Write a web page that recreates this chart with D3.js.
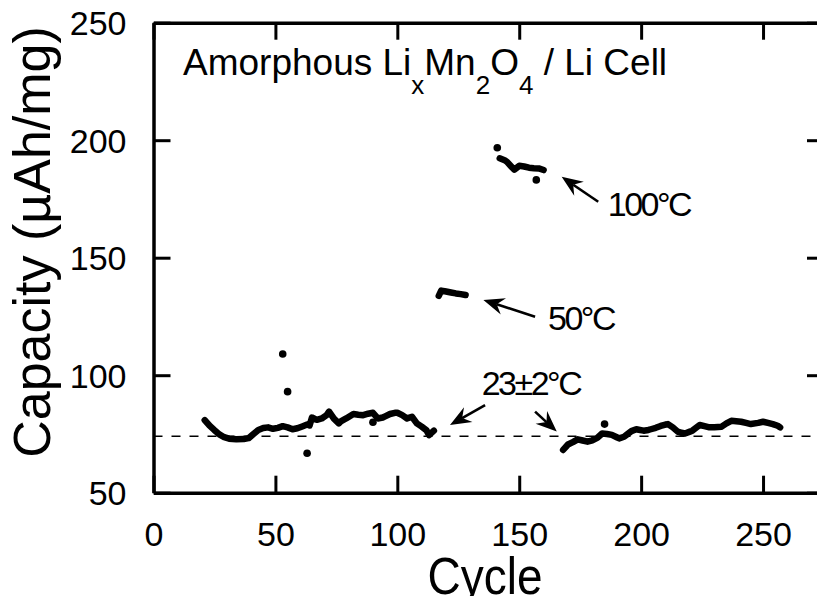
<!DOCTYPE html>
<html>
<head>
<meta charset="utf-8">
<script src="https://cdn.jsdelivr.net/npm/d3@7"></script>
<style>
  body { margin: 0; background: #fff; }
  svg { display: block; }
  text { font-family: "Liberation Sans", Arial, Helvetica, sans-serif; fill: #000; }
</style>
</head>
<body>
<svg id="chart" width="817" height="596"></svg>
<script>
// ---- data ----
// room temperature, first run (cycles 21-115)
var roomACycles = [21, 23, 25, 27, 29, 31, 34, 37, 39, 41, 43, 45, 47, 49, 51, 53, 55, 57, 59, 61, 63, 64,
                   65, 67, 69, 71, 72, 74, 76, 77, 79, 82, 84, 86, 88, 90, 92, 94, 95, 97, 99, 100, 102, 104, 106, 108, 110, 112, 113, 115];
var roomACapacity = [80.9, 78.5, 76.6, 74.8, 73.6, 73.0, 72.7, 72.8, 73.2, 75.0, 76.7, 77.5, 77.8, 77.2, 77.6, 78.3, 77.8, 77.0, 77.4, 78.2, 79.0, 78.6,
                     82.0, 81.0, 81.6, 83.0, 84.5, 81.5, 79.5, 80.5, 81.6, 83.5, 83.2, 83.0, 83.6, 84.0, 81.6, 82.0, 82.5, 83.5, 84.0, 84.0, 83.0, 81.6, 82.3, 79.5, 78.1, 76.5, 74.5, 76.4];

// 50 C
var warmCycles = [117, 118, 120, 122, 124, 126, 128];
var warmCapacity = [133.8, 136.0, 135.6, 135.2, 134.8, 134.5, 134.1];

// 100 C
var hotCycles = [142, 144, 145, 147, 148, 150, 152, 154, 156, 158, 160];
var hotCapacity = [192.3, 191.5, 190.8, 188.5, 187.5, 189.1, 188.8, 188.3, 188.1, 188.0, 187.3];

// room temperature, second run (cycles 168-257)
var roomBCycles = [168, 170, 172, 174, 176, 178, 180, 182, 184, 186, 188, 190, 191, 193, 194, 196, 198, 199, 201, 203, 204, 206, 208, 210, 211,
                   213, 215, 216, 218, 220, 221, 224, 226, 228, 230, 233, 235, 237, 239, 241, 243, 245, 248, 250, 252, 254, 256, 257];
var roomBCapacity = [68.2, 70.5, 71.5, 72.7, 72.2, 71.7, 72.3, 73.3, 75.2, 75.0, 74.6, 73.6, 73.1, 73.8, 74.6, 76.2, 77.0, 76.8, 76.4, 76.7, 77.0, 77.6, 78.4, 79.0, 79.2,
                     77.8, 76.0, 75.6, 75.2, 76.0, 76.4, 78.8, 78.3, 77.8, 77.9, 78.1, 79.5, 80.6, 80.4, 80.2, 79.7, 79.2, 79.7, 80.2, 79.7, 79.2, 78.5, 77.8];

// stray single points
var strayCycles = [53, 55, 63, 90, 141, 157, 185];
var strayCapacity = [109.0, 93.0, 66.8, 80.0, 196.8, 183.1, 79.2];

// reference level (dashed)
var baselineCapacity = 74;

// axis ticks
var xTicks = [0, 50, 100, 150, 200, 250];
var yTicks = [50, 100, 150, 200, 250];

// temperature notes: label position and arrow (tail -> tip), in cycle/capacity units
var noteLabels = ["100°C", "50°C", "23±2°C"];
var noteLabelAt = [[186.3, 167.7], [161.8, 119.2], [134.6, 91.6]];
var noteArrows = [
  [[182.4, 173.8], [167.4, 184.4]],
  [[156.5, 124.9], [135.3, 132.0]],
  [[136.0, 87.3], [121.6, 78.8]],
  [[156.5, 84.5], [165.4, 76.0]]
];

// ---- layout ----
var svg = d3.select("#chart");
var plotLeft = 153.5, plotTop = 22.7, plotRight = 824, plotBottom = 492.7, tickLen = 17;

var x = d3.scaleLinear().domain([0, 275]).range([plotLeft, plotRight]);
var y = d3.scaleLinear().domain([50, 250]).range([plotBottom, plotTop]);

function zip(a, b) { return a.map(function (d, i) { return [d, b[i]]; }); }

// dashed reference line
svg.append("line")
  .attr("x1", x(0)).attr("x2", x(275))
  .attr("y1", y(baselineCapacity)).attr("y2", y(baselineCapacity))
  .attr("stroke", "#000").attr("stroke-width", 1.5)
  .attr("stroke-dasharray", "9,9");

// axes (ticks point inward)
function styleAxis(g) {
  g.select(".domain").attr("stroke-width", 3.5);
  g.selectAll(".tick line").attr("stroke-width", 3);
}
svg.append("g").attr("transform", "translate(0," + plotBottom + ")")
  .call(d3.axisBottom(x).tickValues(xTicks).tickSizeInner(-tickLen).tickSizeOuter(0).tickPadding(0))
  .call(styleAxis)
  .call(function (g) {
    g.selectAll(".tick text").attr("y", 53).attr("dy", 0).style("font-size", "34px");
  });
svg.append("g").attr("transform", "translate(0," + plotTop + ")")
  .call(d3.axisTop(x).tickValues(xTicks).tickSizeInner(-tickLen).tickSizeOuter(0).tickFormat(""))
  .call(styleAxis);
svg.append("g").attr("transform", "translate(" + plotLeft + ",0)")
  .call(d3.axisLeft(y).tickValues(yTicks).tickSizeInner(-tickLen).tickSizeOuter(0).tickPadding(27))
  .call(styleAxis)
  .call(function (g) {
    g.selectAll(".tick text").attr("dy", "0.36em").style("font-size", "34px");
  });
svg.append("g").attr("transform", "translate(" + plotRight + ",0)")
  .call(d3.axisRight(y).tickValues(yTicks).tickSizeInner(-tickLen).tickSizeOuter(0).tickFormat(""))
  .call(styleAxis);
svg.selectAll(".domain").attr("stroke", "#000");
svg.selectAll(".tick line").attr("stroke", "#000");
svg.selectAll(".tick text").attr("fill", "#000");

// data traces
var line = d3.line().x(function (d) { return x(d[0]); }).y(function (d) { return y(d[1]); });
var runs = [zip(roomACycles, roomACapacity), zip(warmCycles, warmCapacity), zip(hotCycles, hotCapacity), zip(roomBCycles, roomBCapacity)];
svg.selectAll("path.run").data(runs).enter().append("path")
  .attr("class", "run")
  .attr("d", line)
  .attr("fill", "none").attr("stroke", "#000")
  .attr("stroke-width", 6.5)
  .attr("stroke-linejoin", "round").attr("stroke-linecap", "round");

svg.selectAll("circle.stray").data(zip(strayCycles, strayCapacity)).enter().append("circle")
  .attr("class", "stray")
  .attr("cx", function (d) { return x(d[0]); })
  .attr("cy", function (d) { return y(d[1]); })
  .attr("r", 3.8).attr("fill", "#000");

// arrows
function arrowHead(tail, tip) {
  var x0 = x(tail[0]), y0 = y(tail[1]), x1 = x(tip[0]), y1 = y(tip[1]);
  var dx = x1 - x0, dy = y1 - y0, len = Math.sqrt(dx * dx + dy * dy);
  var ux = dx / len, uy = dy / len, nx = -uy, ny = ux;
  var L = 21, W = 8.5, notch = 7;
  return {
    shaft: [[x0, y0], [x1 - (L - notch) * ux, y1 - (L - notch) * uy]],
    head: [[x1, y1], [x1 - L * ux + W * nx, y1 - L * uy + W * ny],
           [x1 - (L - notch) * ux, y1 - (L - notch) * uy],
           [x1 - L * ux - W * nx, y1 - L * uy - W * ny]]
  };
}
noteArrows.forEach(function (a) {
  var ar = arrowHead(a[0], a[1]);
  svg.append("path").attr("d", d3.line()(ar.shaft))
    .attr("stroke", "#000").attr("stroke-width", 2.6).attr("fill", "none");
  svg.append("path").attr("d", d3.line()(ar.head) + "Z").attr("fill", "#000");
});

svg.selectAll("text.note").data(noteLabels).enter().append("text")
  .attr("class", "note")
  .attr("x", function (d, i) { return x(noteLabelAt[i][0]); })
  .attr("y", function (d, i) { return y(noteLabelAt[i][1]); })
  .style("font-size", "34px").style("letter-spacing", "-2.5px")
  .text(function (d) { return d; });

// title with subscripts
var title = svg.append("text").attr("x", 183).attr("y", 75).style("font-size", "37px");
title.append("tspan").text("Amorphous Li");
title.append("tspan").attr("dy", 19).style("font-size", "26px").text("x");
title.append("tspan").attr("dy", -19).text("Mn");
title.append("tspan").attr("dy", 19).style("font-size", "26px").text("2");
title.append("tspan").attr("dy", -19).text("O");
title.append("tspan").attr("dy", 19).style("font-size", "26px").text("4");
title.append("tspan").attr("dy", -19).text(" / Li Cell");

// axis titles
svg.append("text")
  .attr("transform", "translate(485,594) scale(1,1.12)")
  .attr("text-anchor", "middle")
  .style("font-size", "46px")
  .text("Cycle");

svg.append("text")
  .attr("transform", "translate(50,242) rotate(-90)")
  .attr("text-anchor", "middle")
  .style("font-size", "52px")
  .text("Capacity (µAh/mg)");
</script>
</body>
</html>
